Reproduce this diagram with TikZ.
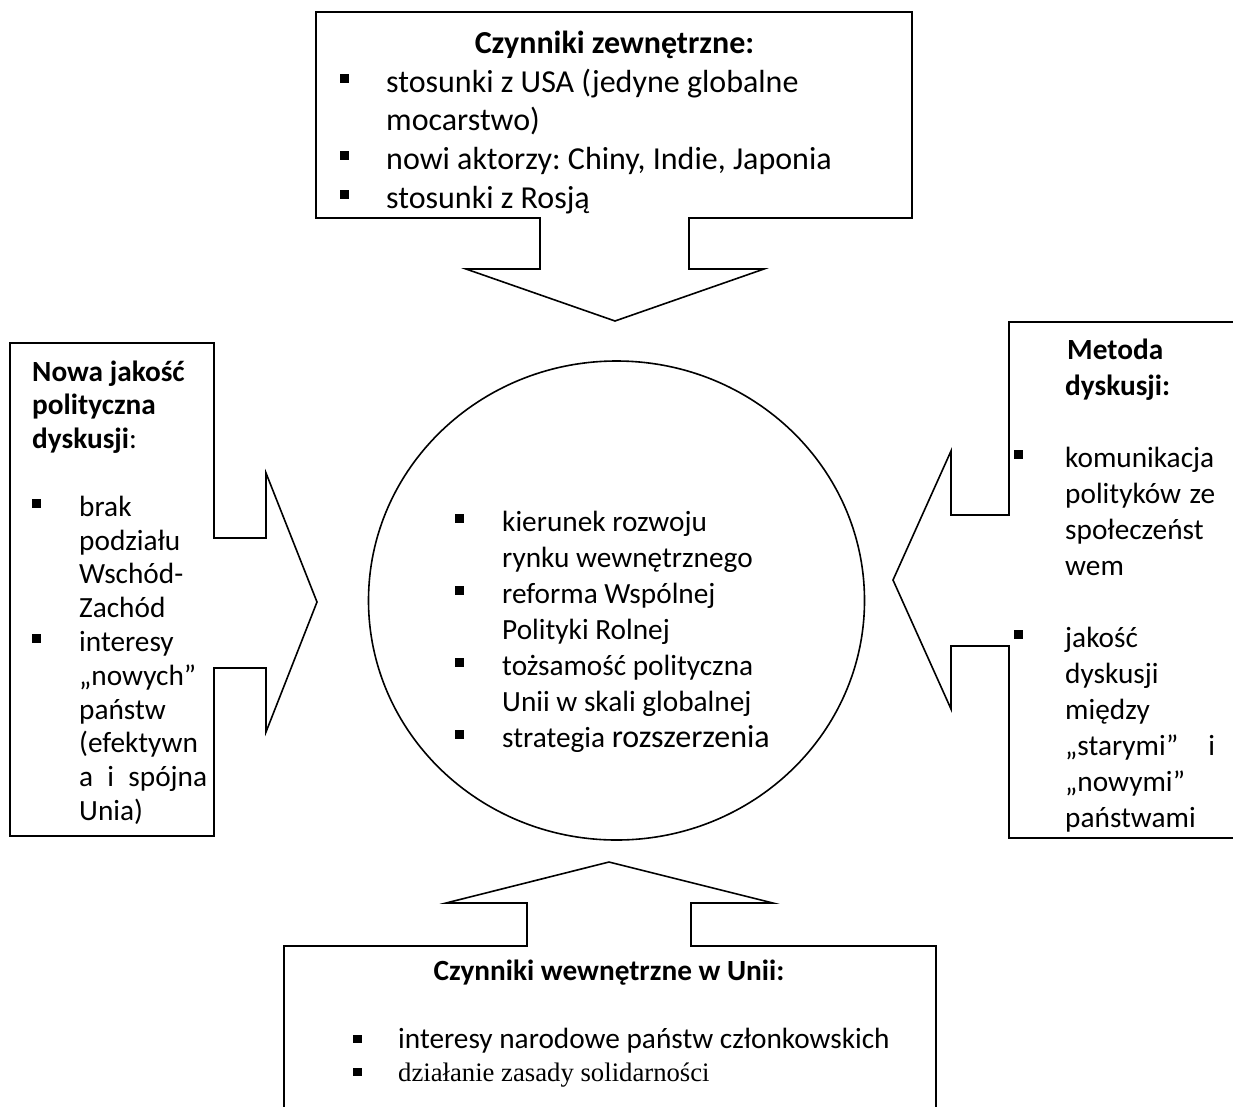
\documentclass[tikz,border=0pt]{standalone}
\usepackage{fontspec}
\setmainfont{Carlito}
\newfontfamily\timesfont{Liberation Serif}
\usetikzlibrary{shapes.geometric}
\frenchspacing

% square bullet, its height above the baseline set per list
\newlength\bulraise
\setlength\bulraise{8.5pt}
\newcommand\bul{\rule[\bulraise]{8.5pt}{8.5pt}}
% bulleted line and continuation line with a hanging indent
\newcommand\itm[2][46pt]{\makebox[#1][l]{\bul}#2}
\newcommand\cnt[2][46pt]{\hspace*{#1}#2}

\begin{document}
\begin{tikzpicture}[x=1pt,y=-1pt,
  callout/.style={line width=1.6pt, line join=miter},
  txt/.style={inner sep=0pt, anchor=base west},
  head/.style={inner sep=0pt, anchor=base, font=\fontsize{#1}{36}\selectfont\bfseries},
  big/.style={font=\fontsize{32}{38.7}\selectfont},
  norm/.style={font=\fontsize{29.3}{#1}\selectfont}]
\useasboundingbox (0,0) rectangle (1233,1106);
\fill[white] (0,0) rectangle (1233,1106);
\clip (0,0) rectangle (1233,1106);

% external factors: box with a downward arrow
\draw[callout] (316,12) -- (912,12) -- (912,218) -- (689,218) -- (689,269)
  -- (764,269) -- (615,321) -- (466,269) -- (540,269) -- (540,218)
  -- (316,218) -- cycle;

% quality of the political debate: box with a right arrow
\draw[callout] (10,343) -- (214,343) -- (214,538) -- (266,538) -- (266,473)
  -- (317,602) -- (266,732) -- (266,668) -- (214,668) -- (214,836)
  -- (10,836) -- cycle;

% method of the debate: box with a left arrow (runs off the right edge)
\draw[callout] (1245,322) -- (1009,322) -- (1009,515) -- (951,515) -- (951,451)
  -- (893,580) -- (951,709) -- (951,646) -- (1009,646) -- (1009,838)
  -- (1245,838);

% internal factors: box with an upward arrow (runs off the bottom edge)
\draw[callout] (284,1120) -- (284,946) -- (527,946) -- (527,903) -- (446,903)
  -- (609,862) -- (773,903) -- (691,903) -- (691,946) -- (936,946)
  -- (936,1120);

% central circle
\node[draw, ellipse, line width=1.6pt, minimum width=496pt, minimum height=479pt,
  inner sep=0pt] (core) at (616.5,600.5) {};

% texts
\node[head=32] (ext-head) at (614.5,53) {Czynniki zewnętrzne:};
\node[txt, big] (ext-list) at (340,92) {\parbox[t]{560pt}{\raggedright
  \setlength\bulraise{9.5pt}%
  \itm{stosunki z USA (jedyne globalne}\\
  \cnt{mocarstwo)}\\
  \itm{nowi aktorzy: Chiny, Indie, Japonia}\\
  \itm{stosunki z Rosją}}};

\node[txt, norm=33.8] (left-list) at (32,381) {\parbox[t]{175pt}{\raggedright
  \textbf{Nowa jakość}\\
  \textbf{polityczna}\\
  \textbf{dyskusji}:\\[33.8pt]
  \itm[47pt]{brak}\\
  \cnt[47pt]{podziału}\\
  \cnt[47pt]{Wschód-}\\
  \cnt[47pt]{Zachód}\\
  \itm[47pt]{interesy}\\
  \cnt[47pt]{„nowych”}\\
  \cnt[47pt]{państw}\\
  \cnt[47pt]{(efektywn}\\
  \cnt[47pt]{a\hfill i\hfill spójna}\\
  \cnt[47pt]{Unia)}}};

\node[txt, norm=36] (right-list) at (1014,359) {\parbox[t]{201pt}{\raggedright
  \hspace*{53pt}\textbf{Metoda}\\
  \hspace*{51pt}\textbf{dyskusji:}\\[36pt]
  \itm[51pt]{komunikacja}\\
  \cnt[51pt]{polityków\hfill ze}\\
  \cnt[51pt]{społeczeńst}\\
  \cnt[51pt]{wem}\\[36pt]
  \itm[51pt]{jakość}\\
  \cnt[51pt]{dyskusji}\\
  \cnt[51pt]{między}\\
  \cnt[51pt]{„starymi”\hfill i}\\
  \cnt[51pt]{„nowymi”}\\
  \cnt[51pt]{państwami}}};

\node[txt, norm=36] (core-list) at (455,531) {\parbox[t]{390pt}{\raggedright
  \itm[47pt]{kierunek rozwoju}\\
  \cnt[47pt]{rynku wewnętrznego}\\
  \itm[47pt]{reforma Wspólnej}\\
  \cnt[47pt]{Polityki Rolnej}\\
  \itm[47pt]{tożsamość polityczna}\\
  \cnt[47pt]{Unii w skali globalnej}\\
  \itm[47pt]{strategia {\fontsize{32}{36}\selectfont rozszerzenia}}}};

\node[head=29.3] (int-head) at (609,980) {Czynniki wewnętrzne w Unii:};
\node[txt, norm=36] (int-list) at (353,1048) {\parbox[t]{570pt}{\raggedright
  \setlength\bulraise{5pt}%
  \itm[45pt]{interesy narodowe państw członkowskich}\\
  \itm[45pt]{\timesfont\fontsize{26.7}{33}\selectfont działanie zasady solidarności}}};
\end{tikzpicture}
\end{document}
